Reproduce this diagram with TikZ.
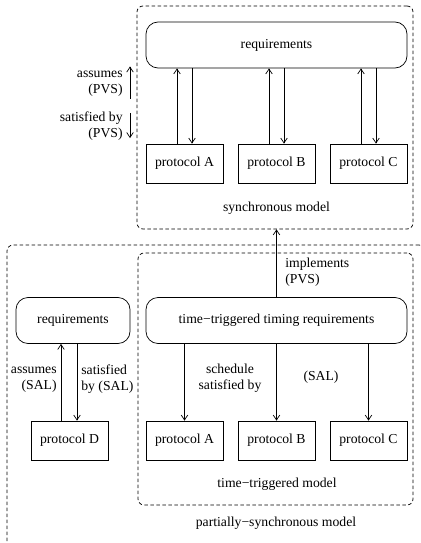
\documentclass[tikz,border=0pt]{standalone}
\usepackage{fontspec}
\setmainfont{Liberation Serif}
\newfontfamily\figserif{Liberation Serif}
\usetikzlibrary{arrows.meta,positioning,calc}

\newcommand{\figfont}{\figserif\fontsize{13.7pt}{16pt}\selectfont}

\begin{document}
\begin{tikzpicture}[
  x=1pt, y=-1pt, line width=0.7pt,
  every node/.style={font=\figfont},
  model/.style={draw, dash pattern=on 3.5pt off 2.5pt, rounded corners=6pt,
                inner sep=0pt},
  reqbox/.style={draw, rounded corners=12pt, minimum height=46pt},
  proto/.style={draw, minimum width=77pt, minimum height=39pt},
  link/.style={-{Straight Barb[length=5pt,width=6.5pt]}},
  lbl/.style={inner sep=0pt},
]
\clip (0,0) rectangle (420,543);

% the three model frames
\node[model, minimum width=276pt, minimum height=223pt] (sync) at (275,117.5) {};
\node[model, minimum width=418pt, minimum height=302pt] (psync) at (216,396) {};
\node[model, minimum width=275pt, minimum height=252pt] (tt) at (275.5,379) {};

% synchronous model
\node[reqbox, minimum width=261pt] (req) at (276.5,45) {requirements};
\node[proto] (pA) at (184.5,163.5) {protocol A};
\node[proto] (pB) at (276.5,163.5) {protocol B};
\node[proto] (pC) at (368.5,163.5) {protocol C};
\foreach \p in {pA,pB,pC} {
  \draw[link] ([xshift=-7.5pt]\p.north) -- ([xshift=-7.5pt]\p.north |- req.south);
  \draw[link] ([xshift=7.5pt]\p.north |- req.south) -- ([xshift=7.5pt]\p.north);
}
\node at (276.5,208) (syncname) {synchronous model};

% legend on the left
\node[lbl, align=right, anchor=east] (asmP) at (123,83.5) {assumes\\(PVS)};
\node[lbl, align=right, anchor=east] (satP) at (123,126.5) {satisfied by\\(PVS)};
\draw[link] ([xshift=7pt,yshift=-2pt]asmP.south east) -- ([xshift=7pt,yshift=4pt]asmP.north east);
\draw[link] ([xshift=7pt,yshift=-1pt]satP.north east) -- ([xshift=7pt,yshift=3pt]satP.south east);

% time-triggered model
\node[reqbox, minimum width=261pt] (ttreq) at (276.5,320.5) {time−triggered timing requirements};
\node[proto] (qA) at (184.5,440.5) {protocol A};
\node[proto] (qB) at (276.5,440.5) {protocol B};
\node[proto] (qC) at (368.5,440.5) {protocol C};
\foreach \p in {qA,qB,qC}
  \draw[link] (\p.north |- ttreq.south) -- (\p.north);
\node[lbl, align=center] (sched) at (230,378) {schedule\\satisfied by};
\node[lbl] (salB) at (321,377) {(SAL)};
\node at (277,484) (ttname) {time−triggered model};

\draw[link] (ttreq.north) -- (ttreq.north |- sync.south);
\node[lbl, align=left, anchor=west] (impl) at (285,272) {implements\\(PVS)};

% protocol D
\node[reqbox, minimum width=114pt] (reqD) at (73,320.5) {requirements};
\node[proto] (pD) at (69.5,440.5) {protocol D};
\draw[link] ([xshift=-8.5pt]pD.north) -- ([xshift=-8.5pt]pD.north |- reqD.south);
\draw[link] ([xshift=7.5pt]pD.north |- reqD.south) -- ([xshift=7.5pt]pD.north);
\node[lbl, align=right, anchor=east] (asmS) at (57,379.5) {assumes\\(SAL)};
\node[lbl, align=left, anchor=west] (satS) at (81,379.5) {satisfied\\by (SAL)};

\node at (276,523) (psyncname) {partially−synchronous model};
\end{tikzpicture}
\end{document}
